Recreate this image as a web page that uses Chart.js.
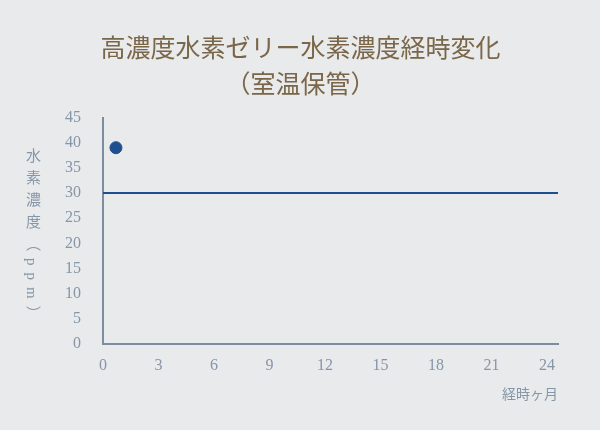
<!DOCTYPE html>
<html><head><meta charset="utf-8">
<script src="https://cdn.jsdelivr.net/npm/chart.js@4"></script>
<style>
body{margin:0;background:#e9eaec;}
#wrap{position:relative;width:600px;height:430px;}
#ylab{position:absolute;left:22px;top:148px;writing-mode:vertical-rl;font-family:"Liberation Serif","Noto Sans CJK JP",serif;font-size:15px;color:#8596a8;letter-spacing:7px;}
</style></head>
<body>
<div id="wrap"><canvas id="c" width="600" height="430"></canvas><div id="ylab">水素濃度（ppm）</div></div>
<script>
const months = [0.7];
const hydrogen = [39];
const limitX = [0, 24.6];
const limitY = [30, 30];
const xTicks = [0, 3, 6, 9, 12, 15, 18, 21, 24];
const tickColor = '#8596a8';
const tickFont = { family: '"Liberation Serif", "DejaVu Serif", serif', size: 16 };

new Chart(document.getElementById('c'), {
  type: 'scatter',
  data: {
    datasets: [{
      data: months.map((m, i) => ({ x: m, y: hydrogen[i] })),
      backgroundColor: '#1f4f8f', borderColor: '#1f4f8f', pointRadius: 6
    }, {
      type: 'line',
      data: limitX.map((m, i) => ({ x: m, y: limitY[i] })),
      borderColor: '#1f4f8f', borderWidth: 2, pointRadius: 0
    }]
  },
  options: {
    responsive: false, animation: false,
    layout: { padding: { left: 43, right: 42, top: 0, bottom: 22 } },
    plugins: {
      legend: { display: false }, tooltip: { enabled: false },
      title: {
        display: true, text: ['高濃度水素ゼリー水素濃度経時変化', '（室温保管）'],
        color: '#7a6648', font: { family: '"Noto Sans CJK JP", serif', size: 25, weight: 'normal', lineHeight: 1.45 },
        padding: { top: 29, bottom: 16 }
      }
    },
    scales: {
      x: {
        type: 'linear', min: 0, max: 24.6,
        afterBuildTicks: ax => { ax.ticks = xTicks.map(v => ({ value: v })); },
        grid: { display: false, drawTicks: false },
        border: { color: '#7a8ea0', width: 2 },
        ticks: { color: tickColor, font: tickFont, padding: 12, maxRotation: 0 },
        title: { display: true, text: '経時ヶ月', align: 'end', color: tickColor,
          font: { family: '"Liberation Serif", "Noto Sans CJK JP", serif', size: 14 }, padding: { top: 0 } }
      },
      y: {
        min: 0, max: 45,
        grid: { display: false, drawTicks: false },
        border: { color: '#7a8ea0', width: 2 },
        ticks: { stepSize: 5, color: tickColor, font: tickFont, padding: 22 }
      }
    }
  }
});
</script>
</body></html>
